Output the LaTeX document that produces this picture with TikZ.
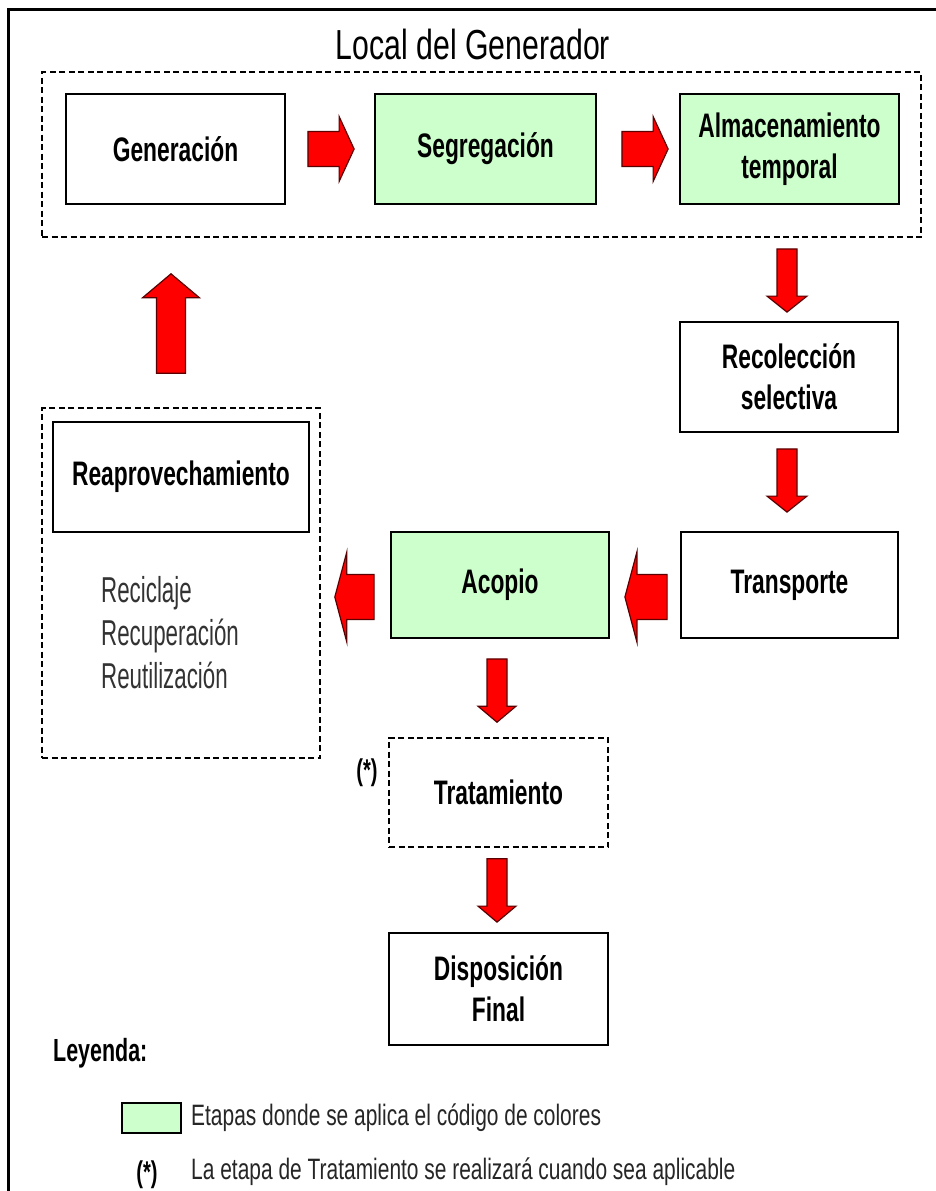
\documentclass[tikz,border=0pt]{standalone}
\usepackage{fontspec}
\usetikzlibrary{calc}
\newfontfamily\narb{Liberation Sans}[FakeStretch=0.67]
\newfontfamily\narr{Liberation Sans}[FakeStretch=0.62]
\newfontfamily\narl{Liberation Sans}[FakeStretch=0.71]
\newfontfamily\nart{Liberation Sans}[FakeStretch=0.72]
\definecolor{lgreen}{HTML}{CCFFCC}
\definecolor{ared}{HTML}{FF0000}
\definecolor{aedge}{HTML}{5A0000}
% block arrow: #1 start, #2 tip, #3 half shaft, #4 half head, #5 head length
\newcommand\barrow[5]{%
  \coordinate (hb) at ($(#2)!#5!(#1)$);
  \filldraw[blockarrow] ($(#1)!#3!90:(#2)$) -- ($(hb)!#3!90:(#2)$) -- ($(hb)!#4!90:(#2)$) -- (#2)
    -- ($(hb)!#4!-90:(#2)$) -- ($(hb)!#3!-90:(#2)$) -- ($(#1)!#3!-90:(#2)$) -- cycle;}
\begin{document}
\begin{tikzpicture}[x=1pt,y=-1pt,
  box/.style={draw=black, line width=1.8pt, inner sep=0pt, align=center,
    font=\narb\bfseries\fontsize{34}{41}\selectfont, text=black},
  gbox/.style={box, fill=lgreen},
  dbox/.style={draw=black, line width=1.6pt, dash pattern=on 6pt off 3.5pt, inner sep=0pt, align=center,
    font=\narb\bfseries\fontsize{34}{41}\selectfont},
  blockarrow/.style={fill=ared, draw=aedge, line width=1.2pt, line join=miter},
  legtext/.style={font=\narl\fontsize{29.5}{32}\selectfont, inner sep=0pt, text=black!85},
  asttext/.style={font=\narb\bfseries\fontsize{30}{32}\selectfont, inner sep=0pt},
]
\useasboundingbox (0,0) rectangle (936,1191);
\fill[white] (0,0) rectangle (936,1191);
\draw[line width=3pt] (8,1191) -- (8,9.5) -- (936,9.5);

% generator site
\node[dbox, minimum width=879pt, minimum height=165pt] (frame) at (481.5,154.5) {};
\node[font=\nart\fontsize{42}{44}\selectfont, inner sep=0pt] (title) at (473,44) {Local del Generador};

\node[box,  minimum width=219pt, minimum height=110pt] (gen) at (175.5,149) {Generación};
\node[gbox, minimum width=221pt, minimum height=110pt] (seg) at (485.5,149) {Segregación};
\node[gbox, minimum width=219pt, minimum height=110pt] (alm) at (789.5,149) {Almacenamiento\\temporal};

\node[box,  minimum width=218pt, minimum height=110pt] (rec) at (789,377) {Recolección\\selectiva};
\node[box,  minimum width=217pt, minimum height=106pt] (tra) at (789.5,585) {Transporte};
\node[gbox, minimum width=218pt, minimum height=106pt] (aco) at (500,585) {Acopio};

% reuse group
\node[dbox, minimum width=278pt, minimum height=350pt] (reapg) at (181,583) {};
\node[box,  minimum width=256pt, minimum height=110pt] (reap) at (181,477) {Reaprovechamiento};
\node[align=left, anchor=west, font=\narr\fontsize{36}{43}\selectfont, text=black!80, inner sep=0pt]
  (subl) at (101,633) {Reciclaje\\Recuperación\\Reutilización};

\node[dbox, minimum width=219pt, minimum height=109pt] (trat) at (498.5,792.5) {Tratamiento};
\node[asttext] (ast1) at (367,773) {(*)};
\node[box,  minimum width=219pt, minimum height=112pt] (disp) at (498.5,989) {Disposición\\Final};

% arrows
\coordinate (a1s) at ($(gen.east)+(22,0)$);   \coordinate (a1e) at ($(seg.west)+(-20,0)$);
\coordinate (a2s) at ($(seg.east)+(25,0)$);   \coordinate (a2e) at ($(alm.west)+(-11,0)$);
\coordinate (a3s) at ($(alm.south)+(-2.5,44)$); \coordinate (a3e) at ($(rec.north)+(-2,-9)$);
\coordinate (a4s) at ($(rec.south)+(-2,16)$); \coordinate (a4e) at ($(tra.north)+(-2.5,-19)$);
\coordinate (a5s) at ($(tra.west)+(-13,12)$); \coordinate (a5e) at ($(aco.east)+(15,12)$);
\coordinate (a6s) at ($(aco.west)+(-16,12)$); \coordinate (a6e) at ($(reapg.east)+(14,14)$);
\coordinate (a7s) at ($(aco.south)+(-3,20)$); \coordinate (a7e) at ($(trat.north)+(-1.5,-15)$);
\coordinate (a8s) at ($(trat.south)+(-1.5,11)$); \coordinate (a8e) at ($(disp.north)+(-1.5,-10)$);
\coordinate (a9s) at ($(reapg.north)+(-10,-34)$); \coordinate (a9e) at ($(frame.south)+(-310.5,36)$);

\barrow{a1s}{a1e}{17.5pt}{32.5pt}{15pt}
\barrow{a2s}{a2e}{17.5pt}{32.5pt}{15pt}
\barrow{a3s}{a3e}{10pt}{20pt}{16pt}
\barrow{a4s}{a4e}{10pt}{20pt}{16pt}
\barrow{a5s}{a5e}{22.5pt}{45pt}{12pt}
\barrow{a6s}{a6e}{22.5pt}{45pt}{12pt}
\barrow{a7s}{a7e}{10pt}{19pt}{16pt}
\barrow{a8s}{a8e}{10pt}{19pt}{16pt}
\barrow{a9s}{a9e}{14.5pt}{28.5pt}{24pt}

% legend
\node[anchor=west, font=\narb\bfseries\fontsize{32}{34}\selectfont, inner sep=0pt] (ley) at (53,1053) {Leyenda:};
\node[draw=black, line width=1.8pt, fill=lgreen, minimum width=59pt, minimum height=30pt, inner sep=0pt] (lgbox) at (151.5,1118) {};
\node[anchor=west, legtext] (l1) at (191,1118) {Etapas donde se aplica el código de colores};
\node[asttext] (ast2) at (147,1175) {(*)};
\node[anchor=west, legtext] (l2) at (191,1172) {La etapa de Tratamiento se realizará cuando sea aplicable};
\end{tikzpicture}
\end{document}
